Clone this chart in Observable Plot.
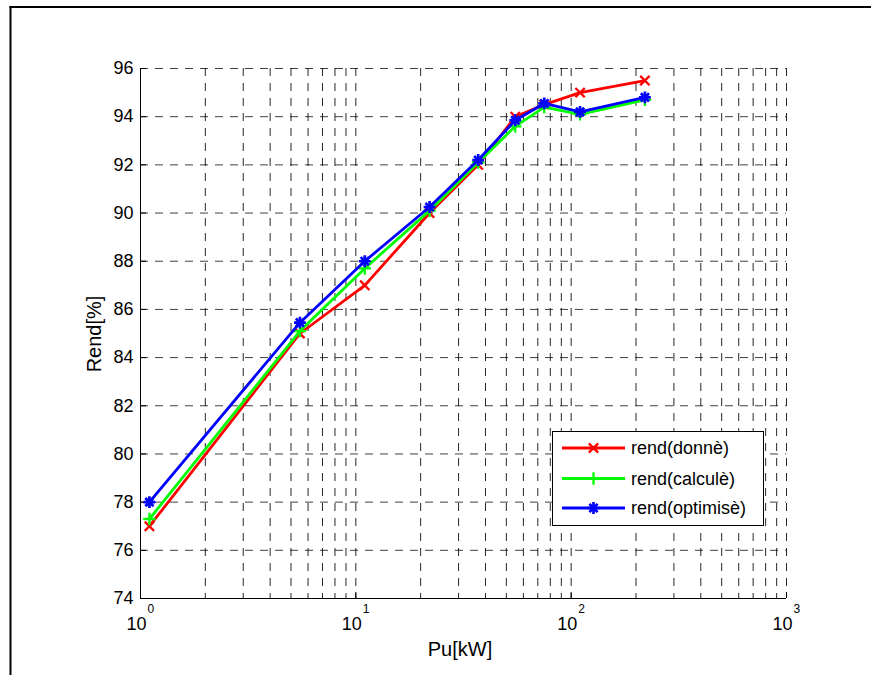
<!DOCTYPE html>
<html>
<head>
<meta charset="utf-8">
<script src="https://cdn.jsdelivr.net/npm/d3@7"></script>
<script src="https://cdn.jsdelivr.net/npm/@observablehq/plot@0.6"></script>
<style>
  html, body { margin: 0; padding: 0; background: #fff; overflow: hidden; scrollbar-width: none; }
  html::-webkit-scrollbar, body::-webkit-scrollbar { display: none; width: 0; height: 0; }
  #wrap { position: relative; width: 871px; height: 675px; overflow: hidden; }
  #wrap svg { display: block; }
</style>
</head>
<body>
<div id="wrap"></div>
<script>
// ---- data ----
const puKW = [1.1, 5.5, 11, 22, 37, 55, 75, 110, 220];
const rendDonne = [77, 85, 87, 90, 92, 94, 94.5, 95, 95.5];
const rendCalcule = [77.3, 85.1, 87.7, 90.1, 92.1, 93.6, 94.4, 94.1, 94.7];
const rendOptimise = [78, 85.45, 88, 90.25, 92.2, 93.85, 94.55, 94.2, 94.8];
const seriesNames = ["rend(donnè)", "rend(calculè)", "rend(optimisè)"];
const seriesColors = ["#ff0000", "#00ff00", "#0000ff"];
const yTicks = [74, 76, 78, 80, 82, 84, 86, 88, 90, 92, 94, 96];
const xDecades = [1, 10, 100, 1000];
const xExponents = ["0", "1", "2", "3"];
const xLabel = "Pu[kW]";
const yLabel = "Rend[%]";

const xGrid = [];
for (const d of [1, 10, 100]) for (let k = 1; k <= 9; k++) xGrid.push(d * k);
xGrid.push(1000);

const rows = (ys, s) => puKW.map((x, i) => ({x, y: ys[i], s}));
const dDonne = rows(rendDonne, seriesNames[0]);
const dCalc = rows(rendCalcule, seriesNames[1]);
const dOpt = rows(rendOptimise, seriesNames[2]);

const font = "'Liberation Sans', Arial, Helvetica, sans-serif";
const dash = "8,7";
const lw = 2.8, mw = 2.3;

const chart = Plot.plot({
  width: 871,
  height: 675,
  marginLeft: 140,
  marginRight: 85,
  marginTop: 68,
  marginBottom: 77,
  style: {fontFamily: font, fontSize: "18px", background: "#fff", color: "#000"},
  x: {type: "log", domain: [1, 1000]},
  y: {domain: [74, 96]},
  marks: [
    // grid
    Plot.ruleY(yTicks, {stroke: "#000", strokeWidth: 1, strokeDasharray: dash, strokeOpacity: 0.75}),
    Plot.ruleX(xGrid, {stroke: "#000", strokeWidth: 1, strokeDasharray: dash, strokeOpacity: 0.85}),
    // axis lines
    Plot.ruleX([1], {stroke: "#000", strokeWidth: 1}),
    Plot.ruleY([74], {stroke: "#000", strokeWidth: 1}),
    // inward ticks
    Plot.axisY(yTicks, {tickSize: -6, tickFormat: () => "", label: null}),
    Plot.axisX(xDecades, {tickSize: -6, tickFormat: () => "", label: null}),
    // y tick labels
    Plot.axisY(yTicks, {tickSize: 0, tickPadding: 7, fontSize: 18, label: null}),
    // x tick labels: 10^n
    Plot.text(xDecades, {x: d => d, frameAnchor: "bottom", text: () => "10", textAnchor: "end",
      lineAnchor: "bottom", dx: 6, dy: 31, fontSize: 18}),
    Plot.text(xDecades, {x: d => d, frameAnchor: "bottom", text: (d, i) => xExponents[i], textAnchor: "start",
      lineAnchor: "bottom", dx: 7, dy: 14, fontSize: 12}),
    // series
    Plot.line(dDonne, {x: "x", y: "y", stroke: seriesColors[0], strokeWidth: lw}),
    Plot.dot(dDonne, {x: "x", y: "y", symbol: "times", r: 4.3, stroke: seriesColors[0], strokeWidth: mw}),
    Plot.line(dCalc, {x: "x", y: "y", stroke: seriesColors[1], strokeWidth: lw}),
    Plot.dot(dCalc, {x: "x", y: "y", symbol: "plus", r: 4.1, stroke: seriesColors[1], strokeWidth: mw}),
    Plot.line(dOpt, {x: "x", y: "y", stroke: seriesColors[2], strokeWidth: lw}),
    Plot.dot(dOpt, {x: "x", y: "y", symbol: "plus", r: 3.9, stroke: seriesColors[2], strokeWidth: mw + 0.4}),
    Plot.dot(dOpt, {x: "x", y: "y", symbol: "times", r: 3.8, stroke: seriesColors[2], strokeWidth: mw + 0.4})
  ]
});

document.getElementById("wrap").appendChild(chart);

// figure frame, axis titles and legend (layout)
const svg = d3.select(chart);
svg.append("line").attr("x1", 10.5).attr("x2", 10.5).attr("y1", 6).attr("y2", 675)
  .attr("stroke", "#000").attr("stroke-width", 2);
svg.append("line").attr("x1", 9.5).attr("x2", 871).attr("y1", 7).attr("y2", 7)
  .attr("stroke", "#000").attr("stroke-width", 2);

svg.append("text").attr("x", 460).attr("y", 656).attr("text-anchor", "middle")
  .attr("font-family", font).attr("font-size", 20).attr("fill", "#000").text(xLabel);
svg.append("text").attr("transform", "translate(101,334) rotate(-90)").attr("text-anchor", "middle")
  .attr("font-family", font).attr("font-size", 20).attr("fill", "#000").text(yLabel);

const lg = svg.append("g");
lg.append("rect").attr("x", 552.5).attr("y", 431.5).attr("width", 211).attr("height", 94)
  .attr("fill", "#fff").attr("stroke", "#000").attr("stroke-width", 1);
const symbols = [
  [[d3.symbolTimes, 4.3, mw]],
  [[d3.symbolPlus, 4.1, mw]],
  [[d3.symbolPlus, 3.9, mw + 0.4], [d3.symbolTimes, 3.8, mw + 0.4]]
];
const rowY = [448, 478.5, 508];
seriesNames.forEach((name, i) => {
  const g = lg.append("g");
  g.append("line").attr("x1", 562).attr("x2", 625).attr("y1", rowY[i]).attr("y2", rowY[i])
    .attr("stroke", seriesColors[i]).attr("stroke-width", lw);
  symbols[i].forEach(([sym, r, w]) => {
    g.append("path").attr("d", d3.symbol(sym, r * r * Math.PI)())
      .attr("transform", `translate(593.5,${rowY[i]})`)
      .attr("fill", "none").attr("stroke", seriesColors[i]).attr("stroke-width", w);
  });
  g.append("text").attr("x", 631).attr("y", rowY[i]).attr("dy", "0.35em").attr("text-anchor", "start")
    .attr("font-family", font).attr("font-size", 18).attr("fill", "#000").text(name);
});
</script>
</body>
</html>
